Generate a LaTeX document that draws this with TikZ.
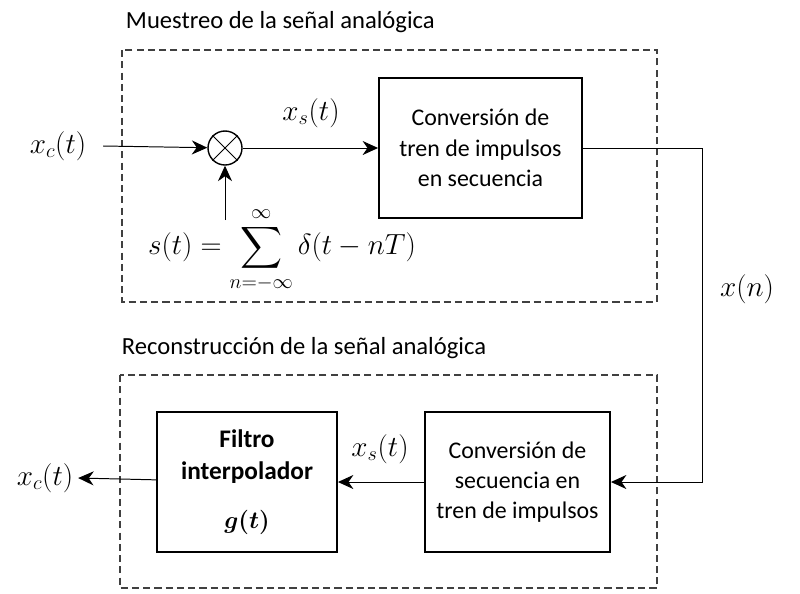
\documentclass[tikz,border=0pt]{standalone}
\usepackage{amsmath}
\usepackage{fontspec}
\setmainfont{Carlito}
\usetikzlibrary{arrows,arrows.meta,shapes}
\tikzstyle{block}=[draw,line width=1.3pt,align=center,minimum height=3.5cm,inner sep=2pt,font=\fontsize{17}{21.5}\selectfont]
\tikzstyle{frame}=[draw,dash pattern=on 5pt off 3pt,line width=0.9pt,black!75]
\tikzstyle{mult}=[circle,draw,line width=1pt,minimum size=0.85cm,inner sep=0pt]
\tikzstyle{signal}=[draw,line width=0.7pt,-{Stealth[length=11pt,width=10pt,inset=3.5pt]}]
\tikzstyle{wire}=[draw,line width=0.7pt,-]
\tikzstyle{sig}=[font=\fontsize{21}{24}\selectfont]
\tikzstyle{title}=[anchor=west,font=\fontsize{17.5}{20}\selectfont]

\begin{document}
\begin{tikzpicture}[x=0.025cm,y=-0.025cm]
    \useasboundingbox (0,0) rectangle (800,593);
    % The two dashed frames and their titles
    \foreach \a/\b in {{(122,50)/(657,302)}, {(120,375)/(657,588)}}
        \path[frame] \a rectangle \b;
    \node[title] (t_sampl) at (121,22) {Muestreo de la señal analógica};
    \node[title] (t_recon) at (117,348) {Reconstrucción de la señal analógica};
    % Sampling: multiplier and conversion block
    \node[sig] (xc_in) at (58,146) {$x_c(t)$};
    \node[mult] (mul) at (225,148) {};
    \path[wire] (mul.north west) -- (mul.south east);
    \path[wire] (mul.north east) -- (mul.south west);
    \node[block,minimum width=5.075cm] (conv_1) at (480.5,148) {Conversión de\\tren de impulsos\\en secuencia};
    \node[sig] (xs_1) at (311,113) {$x_s(t)$};
    \node[sig] (s_t) at (282,250) {$s(t)=\displaystyle\sum_{n=-\infty}^{\infty}\delta(t-nT)$};
    \coordinate (s_in) at (225,220);
    % Reconstruction: conversion block and filter
    \node[block,minimum width=4.625cm] (conv_2) at (517.5,482) {Conversión de\\secuencia en\\tren de impulsos};
    \node[block,minimum width=4.5cm,font=\fontsize{18}{23}\selectfont\bfseries] (filt) at (247,482) {Filtro\\interpolador\\[12pt]$\boldsymbol{g(t)}$};
    \node[sig] (xs_2) at (380,449) {$x_s(t)$};
    \node[sig] (xc_out) at (45,478) {$x_c(t)$};
    \node[sig] (xn) at (747,289) {$x(n)$};
    \coordinate (c_1) at (702,148);
    \coordinate (c_2) at (702,482);
    % Connect everything
    \path[signal] (xc_in.east) ++(12,0) -- (mul);
    \path[signal] (s_in) -- (mul);
    \path[signal] (mul) -- (conv_1);
    \path[signal] (conv_1.east) -- (c_1) -- (c_2) -- (conv_2.east);
    \path[signal] (conv_2) -- (filt);
    \path[signal] (filt) -- (xc_out.east);
\end{tikzpicture}
\end{document}
